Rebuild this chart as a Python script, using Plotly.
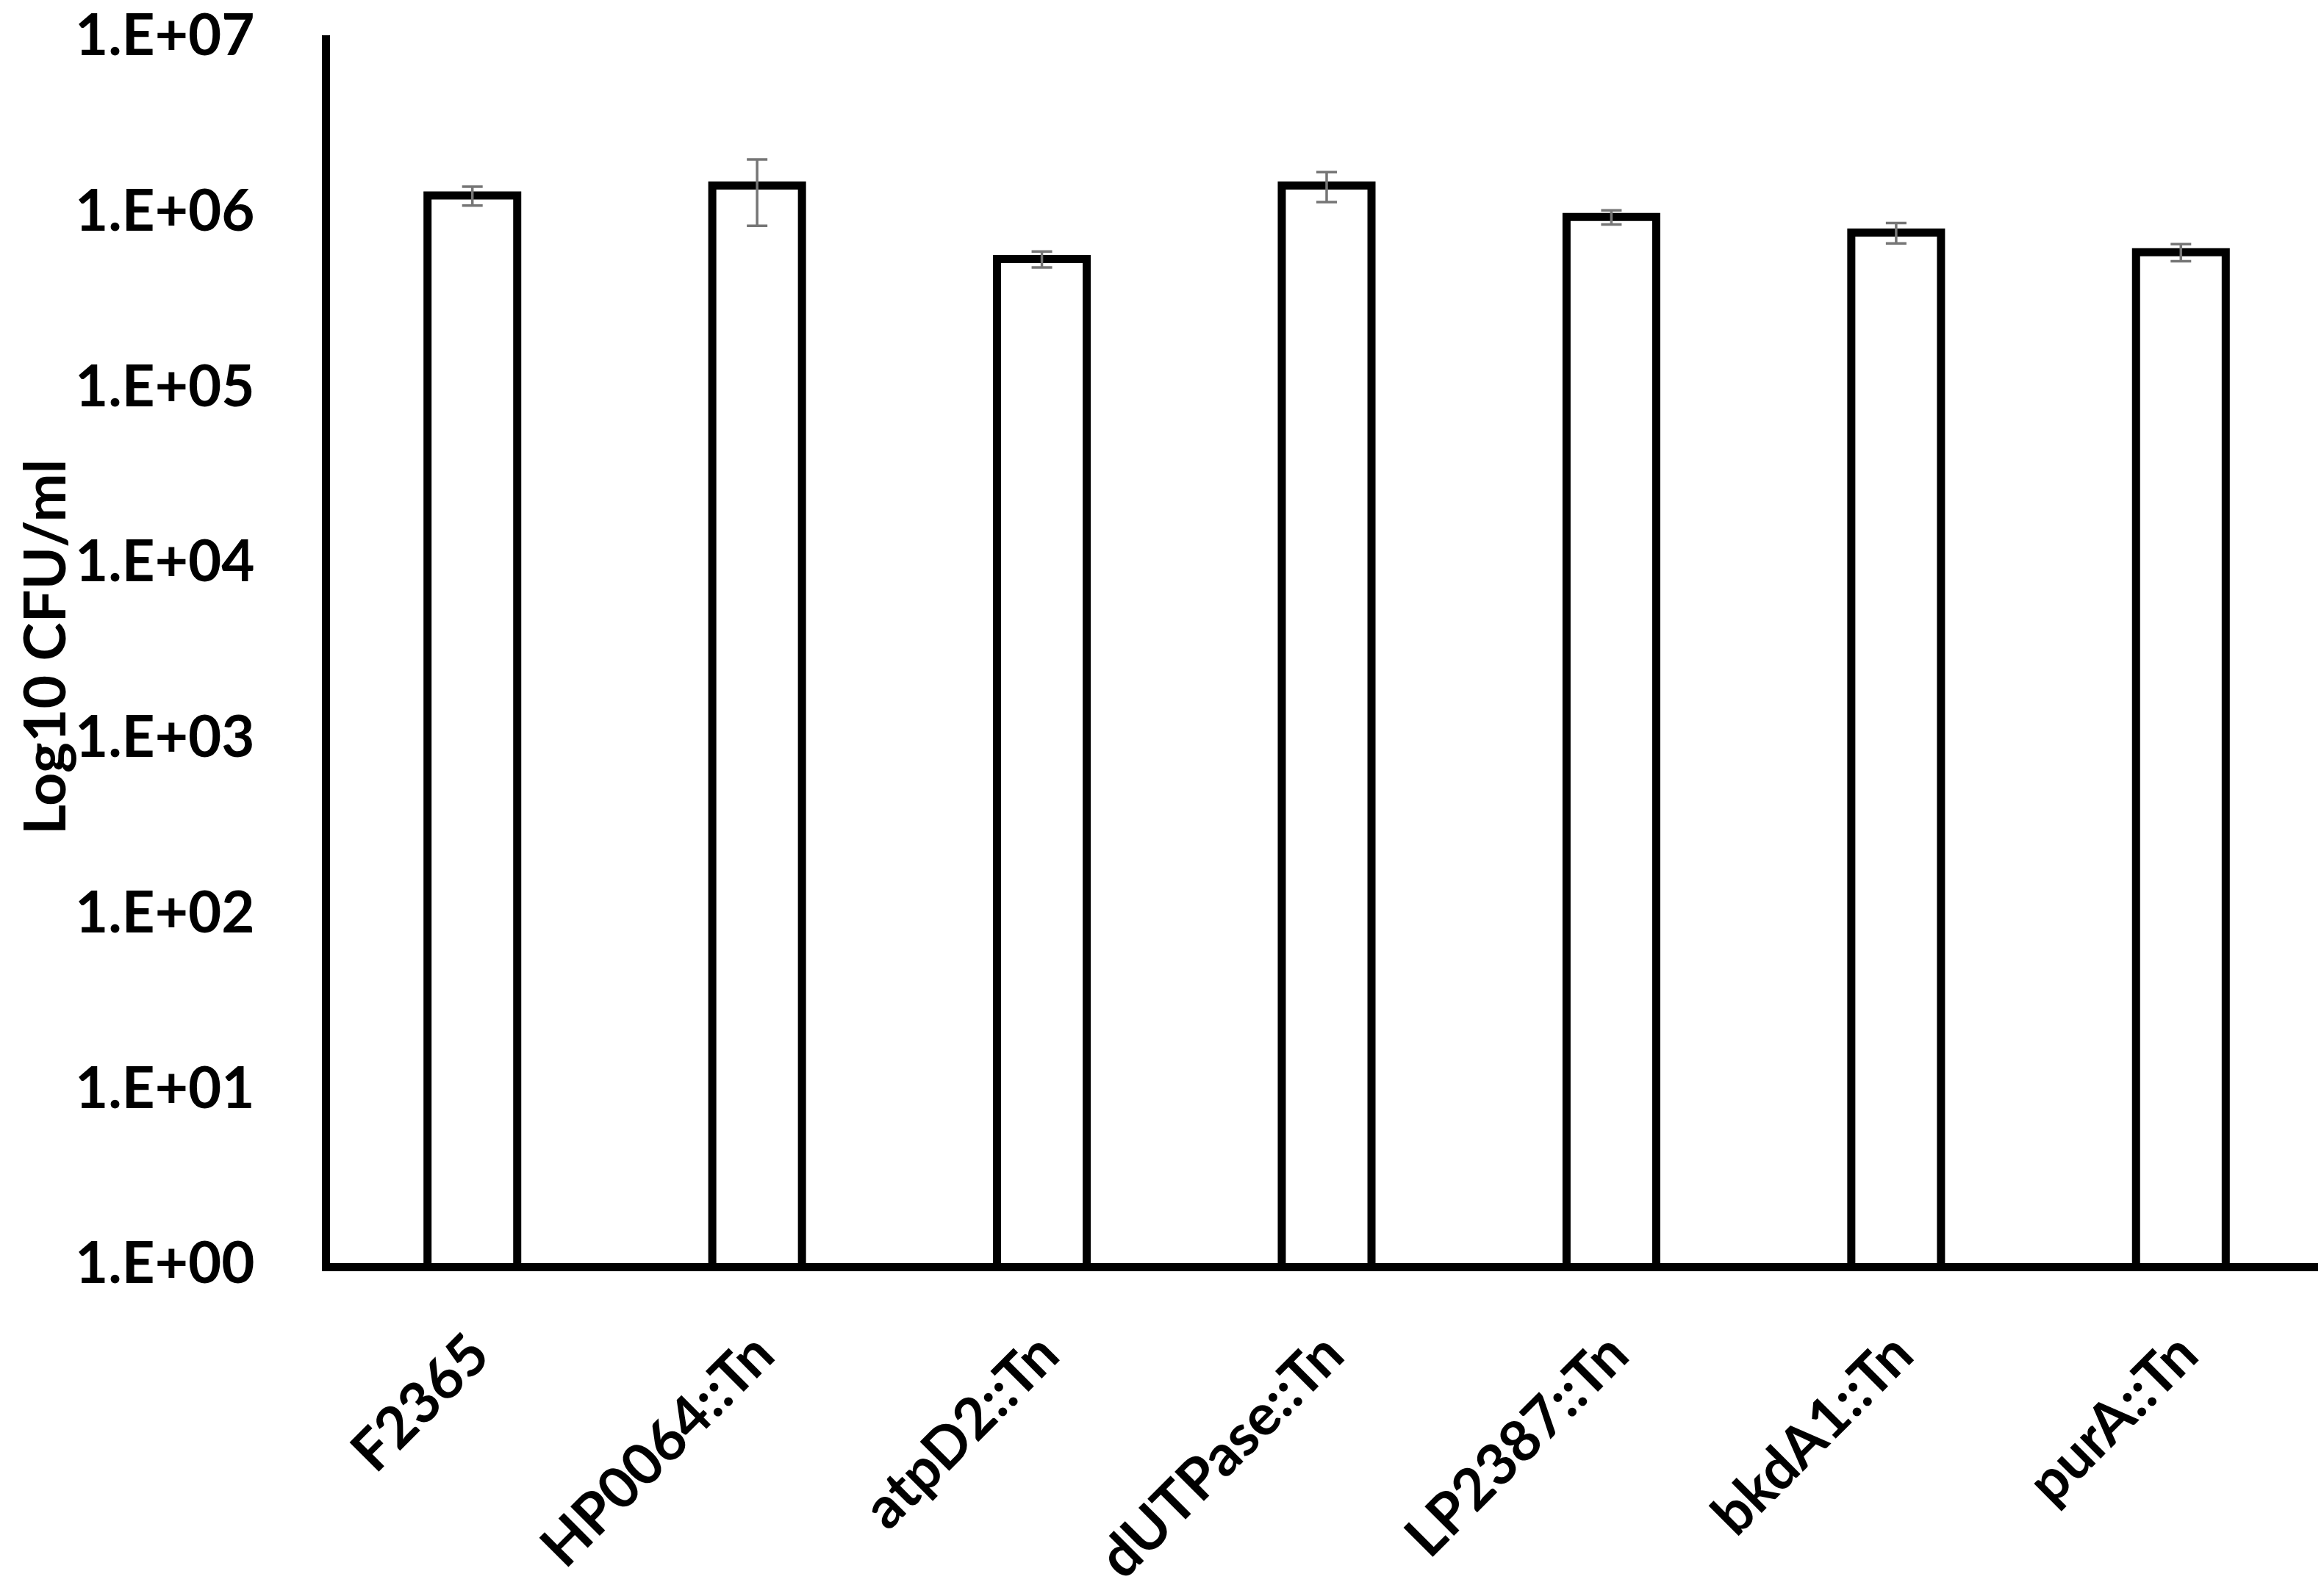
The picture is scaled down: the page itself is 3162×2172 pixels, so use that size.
import plotly.graph_objects as go

categories = ["F2365", "HP0064::Tn", "atpD2::Tn", "dUTPase::Tn", "LP2387::Tn", "bkdA1::Tn", "purA::Tn"]
cfu_values = [1.22e6, 1.39e6, 5.3e5, 1.39e6, 9.2e5, 7.5e5, 5.8e5]
cfu_errors = [1.5e5, 5.7e5, 5.5e4, 2.7e5, 8.5e4, 1.0e5, 6.5e4]
tick_values = [1e0, 1e1, 1e2, 1e3, 1e4, 1e5, 1e6, 1e7]
tick_labels = ["1.E+00", "1.E+01", "1.E+02", "1.E+03", "1.E+04", "1.E+05", "1.E+06", "1.E+07"]
y_title = "Log10 CFU/ml"

FONT = "Lato, Arial, sans-serif"

W, H = 3162, 2172
L, R, T, B = 441, 9, 40, 461

fig = go.Figure()
fig.add_trace(go.Bar(
    x=categories,
    y=cfu_values,
    width=0.315,
    marker=dict(color="white", line=dict(color="black", width=11)),
    error_y=dict(type="data", array=cfu_errors, visible=True,
                 color="#767676", thickness=3.5, width=14),
))

fig.update_layout(
    width=W, height=H,
    margin=dict(l=L, r=R, t=T, b=B, pad=0, autoexpand=False),
    plot_bgcolor="white", paper_bgcolor="white",
    showlegend=False,
    font=dict(family=FONT, size=78, color="black"),
)
fig.update_xaxes(
    type="category",
    range=[-0.5, 6.5],
    automargin=False,
    showline=True, linecolor="black", linewidth=11,
    ticks="outside", ticklen=36, tickcolor="rgba(0,0,0,0)",
    tickangle=-45,
    tickfont=dict(family=FONT, size=78, color="black", weight="bold"),
    ticklabeloverflow="allow",
    showgrid=False, zeroline=False,
)
fig.update_yaxes(
    type="log",
    range=[0, 7],
    automargin=False,
    tickvals=tick_values, ticktext=tick_labels,
    showline=True, linecolor="black", linewidth=11,
    ticks="outside", ticklen=76, tickcolor="rgba(0,0,0,0)",
    tickfont=dict(family=FONT, size=78, color="black", weight="bold"),
    ticklabeloverflow="allow",
    showgrid=False, zeroline=False,
)
fig.add_annotation(
    text="<b>" + y_title + "</b>",
    xref="paper", yref="paper",
    x=(50 - L) / (W - L - R), y=(H - B - 873) / (H - B - T),
    xanchor="center", yanchor="middle",
    textangle=-90, showarrow=False,
    font=dict(family=FONT, size=79, color="black"),
)

fig.write_html("out.html")
